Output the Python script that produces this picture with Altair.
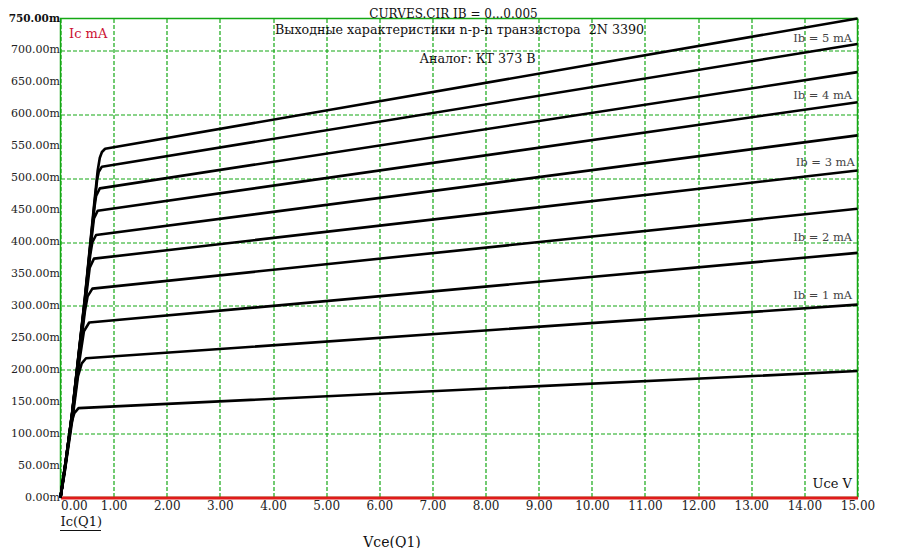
import altair as alt
import pandas as pd

FONT = "DejaVu Serif"
GREEN = "#14a814"
RED = "#e01b1b"

# Base current of each curve (mA)
IB = [0.5, 1.0, 1.5, 2.0, 2.5, 3.0, 3.5, 4.0, 4.5, 5.0]

# Collector-emitter voltage (V) and collector current (mA) per curve
VCE_1 = [0, 0.08, 0.19, 0.26, 0.34, 15]
IC_1 = [0, 40, 112, 132, 140, 198]
VCE_2 = [0, 0.10, 0.22, 0.33, 0.40, 0.48, 15]
IC_2 = [0, 52, 120, 190, 210, 218, 302]
VCE_3 = [0, 0.10, 0.22, 0.34, 0.44, 0.54, 15]
IC_3 = [0, 55, 125, 205, 260, 274, 383]
VCE_4 = [0, 0.10, 0.22, 0.34, 0.46, 0.51, 0.60, 15]
IC_4 = [0, 56, 128, 212, 292, 315, 327, 452]
VCE_5 = [0, 0.10, 0.22, 0.34, 0.46, 0.55, 0.63, 15]
IC_5 = [0, 57, 130, 215, 300, 360, 374, 512]
VCE_6 = [0, 0.10, 0.22, 0.34, 0.46, 0.56, 0.60, 0.67, 15]
IC_6 = [0, 57, 131, 218, 305, 380, 400, 411, 567]
VCE_7 = [0, 0.10, 0.22, 0.34, 0.46, 0.56, 0.63, 0.70, 15]
IC_7 = [0, 58, 132, 220, 308, 388, 437, 449, 619]
VCE_8 = [0, 0.10, 0.22, 0.34, 0.46, 0.56, 0.64, 0.67, 0.74, 15]
IC_8 = [0, 58, 133, 222, 310, 392, 455, 472, 484, 666]
VCE_9 = [0, 0.10, 0.22, 0.34, 0.46, 0.56, 0.64, 0.69, 0.72, 0.78, 15]
IC_9 = [0, 58, 133, 223, 312, 395, 460, 498, 510, 518, 710]
VCE_10 = [0, 0.10, 0.22, 0.34, 0.46, 0.56, 0.64, 0.70, 0.74, 0.78, 0.84, 15]
IC_10 = [0, 58, 134, 224, 314, 398, 465, 512, 532, 541, 546, 750]

VCE = [VCE_1, VCE_2, VCE_3, VCE_4, VCE_5, VCE_6, VCE_7, VCE_8, VCE_9, VCE_10]
IC = [IC_1, IC_2, IC_3, IC_4, IC_5, IC_6, IC_7, IC_8, IC_9, IC_10]

# Curve annotations
LABEL_TEXT = ["Ib = 5 mA", "Ib = 4 mA", "Ib = 3 mA", "Ib = 2 mA", "Ib = 1 mA"]
LABEL_IC = [718, 628, 524, 407, 316]
LABEL_VCE = [14.9, 14.9, 14.95, 14.9, 14.9]

X_TICKS = list(range(0, 16))
Y_TICKS = list(range(0, 751, 50))

rows = []
for ib, vs, cs in zip(IB, VCE, IC):
    for k, (v, c) in enumerate(zip(vs, cs)):
        rows.append({"ib": ib, "vce": v, "ic": c, "order": k})
curves_df = pd.DataFrame(rows)
labels_df = pd.DataFrame({"text": LABEL_TEXT, "ic": LABEL_IC, "vce": LABEL_VCE})
yticks_df = pd.DataFrame({"ic": Y_TICKS})

x_scale = alt.Scale(domain=[0, 15], nice=False)
y_scale = alt.Scale(domain=[0, 750], nice=False)

x_axis = alt.Axis(
    values=X_TICKS, format=".2f", title=None,
    grid=True, gridColor=GREEN, gridDash=[4, 2], gridWidth=1.2,
    domainColor=RED, domainWidth=3, ticks=False,
    labelFont=FONT, labelFontSize=12, labelColor="#222", labelPadding=3,
    labelFlush=False, labelOverlap=False,
    labelAlign={"condition": {"test": "datum.value == 0", "value": "left"}, "value": "center"},
)
y_axis = alt.Axis(
    values=Y_TICKS, title=None, labels=False,
    grid=True, gridColor=GREEN, gridDash=[4, 2], gridWidth=1.2,
    domain=False, ticks=False,
)

lines = alt.Chart(curves_df).mark_line(color="black", strokeWidth=2.6, strokeJoin="round").encode(
    x=alt.X("vce:Q", scale=x_scale, axis=x_axis),
    y=alt.Y("ic:Q", scale=y_scale, axis=y_axis),
    detail="ib:N",
    order="order:Q",
)

# y tick labels, placed by the y scale
ytick_base = alt.Chart(yticks_df).transform_calculate(
    lab="format(datum.ic, '.2f') + 'm'"
)
ytick_normal = ytick_base.transform_filter("datum.ic < 750").mark_text(
    font=FONT, fontSize=11, color="#222", align="right", baseline="middle"
).encode(x=alt.value(-0.5), y="ic:Q", text="lab:N")
ytick_top = ytick_base.transform_filter("datum.ic >= 750").mark_text(
    font=FONT, fontSize=10.5, color="#111", align="right", baseline="middle", fontWeight="bold"
).encode(x=alt.value(-0.5), y="ic:Q", text="lab:N")

curve_labels = alt.Chart(labels_df).mark_text(
    font=FONT, fontSize=11.5, color="#444", align="right", baseline="middle"
).encode(
    x="vce:Q",
    y="ic:Q",
    text="text:N",
)


def note(text, x, y, size=13, color="#111", align="center", weight="normal"):
    return alt.Chart(alt.Data(values=[{}])).mark_text(
        text=text, font=FONT, fontSize=size, color=color, align=align,
        baseline="middle", fontWeight=weight,
    ).encode(x=alt.value(x), y=alt.value(y))


notes = [
    note("CURVES.CIR IB = 0...0.005", 393, -4.5, size=12),
    note("Выходные характеристики n-p-n транзистора \u00a02N 3390", 214.5, 11.5, size=12.7, align="left"),
    note("Аналог: КТ 373 В", 417, 40.5, size=12.7),
    note("Ic mA", 8.5, 15.5, size=13, color="#cc1133", align="left"),
    note("Uce V", 791.5, 465.5, size=13, align="right"),
    note("Ic(Q1)", 0, 503.5, size=13, align="left"),
    note("Vce(Q1)", 331.5, 524, size=14),
]

underline = alt.Chart(alt.Data(values=[{}])).mark_rule(color="#111", strokeWidth=1).encode(
    x=alt.value(-0.5), x2=alt.value(40.5), y=alt.value(512)
)

chart = alt.layer(lines, ytick_normal, ytick_top, curve_labels, *notes, underline).properties(
    width=797, height=479,
    autosize=alt.AutoSizeParams(type="none"),
    padding={"left": 52.5, "top": 10.5, "right": 33.5, "bottom": 50.5},
).configure_view(
    stroke=GREEN, strokeWidth=1.5
).configure_axis(labelOverlap=False)

chart.save("out.html", embed_options={"renderer": "svg", "actions": False})
